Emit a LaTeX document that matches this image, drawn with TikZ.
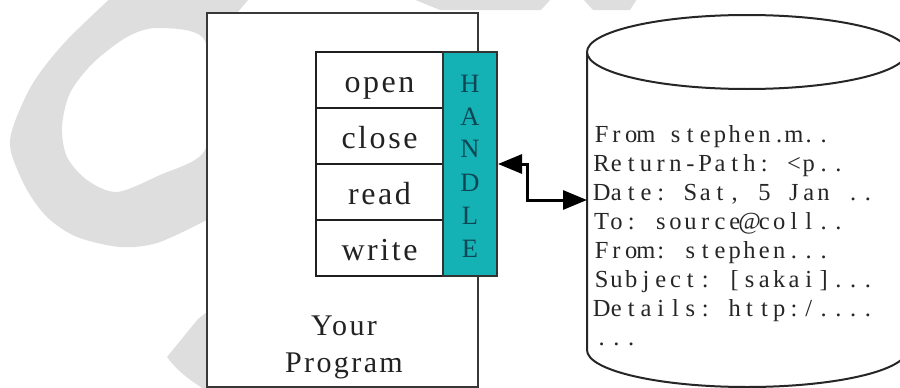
\documentclass[tikz,border=0pt]{standalone}
\usepackage{fontspec}
\setmainfont{Liberation Serif}
\newfontfamily\trackedserif[LetterSpace=8]{Liberation Serif}
\usetikzlibrary{arrows.meta}

\definecolor{handlefill}{RGB}{20,178,180}
\definecolor{handleink}{RGB}{15,70,85}
\definecolor{markgray}{RGB}{222,222,222}
\definecolor{inkgray}{RGB}{34,34,34}

% fixed-pitch setting of serif glyphs, one centred cell per character
\newlength\pitchwidth
\setlength\pitchwidth{14.8pt}
\ExplSyntaxOn
\NewDocumentCommand\pitched{m}{\str_map_inline:nn{#1}{\makebox[\pitchwidth][c]{##1}}}
\ExplSyntaxOff

\tikzset{
  progbox/.style={draw=black!78, line width=2pt, fill=white, inner sep=0pt,
    minimum width=271pt, minimum height=374pt},
  methodbox/.style={draw=black!88, line width=2pt, fill=white, inner sep=0pt,
    minimum width=127pt, minimum height=56pt, text height=28pt, text depth=3pt,
    text=inkgray, font=\trackedserif\fontsize{32}{36}\selectfont},
  handlebox/.style={draw=black!80, line width=2pt, fill=handlefill, inner sep=0pt,
    minimum width=54pt, minimum height=224pt},
  handlelabel/.style={text=handleink, inner sep=0pt,
    font=\fontsize{26.5}{33}\selectfont},
  caption/.style={text=inkgray, inner sep=0pt,
    font=\trackedserif\fontsize{30}{36}\selectfont},
  records/.style={text=black!85, inner sep=0pt,
    font=\fontsize{24.5}{29}\selectfont},
  dbline/.style={draw=black!85, line width=2pt},
  link/.style={line width=3pt, draw=black,
    arrows={Triangle[length=24pt,width=19pt]-Triangle[length=24pt,width=19pt]}},
}

\begin{document}
\begin{tikzpicture}[x=1pt,y=-1pt]
\useasboundingbox (0,0) rectangle (900,388);
\begin{scope}
\clip (0,0) rectangle (900,388);

% faint background mark
\fill[markgray, even odd rule]
  plot[smooth] coordinates {(130,-20) (67,40) (33,83) (13,127) (11,152) (27,190)
    (48,218) (77,237) (120,247) (157,243) (203,222) (220,212)}
  -- (222,13) -- (237,13) -- (265,-20) -- cycle
  plot[smooth cycle] coordinates {(203,38) (157,28) (127,37) (93,63) (70,93)
    (62,127) (67,157) (87,180) (117,192) (160,175) (203,153) (215,100)};
\fill[markgray] (212,308) -- (198,319) -- (167,357)
  .. controls (178,372) and (192,382) .. (212,394) -- cycle;
\fill[markgray] (413,-1) -- (551,-1) -- (541,10) -- (440,10) -- cycle;
\fill[markgray] (583,-1) -- (637,-1) -- (630,10) -- (593,10) -- cycle;

% the program with its file operations
\node[progbox] (prog) at (342.5,200) {};
\node[methodbox] (open)  at (379.5,80)  {open};
\node[methodbox] (close) at (379.5,136) {close};
\node[methodbox] (read)  at (379.5,192) {read};
\node[methodbox] (write) at (379.5,248) {write};
\node[handlebox] (handle) at (470,164) {};
\node[handlelabel, anchor=base] (handletext) at (470,92)
  {\begin{tabular}[t]{@{}c@{}}H\\A\\N\\D\\L\\E\end{tabular}};
\node[caption, anchor=base] (your) at (344,335) {Your};
\node[caption, anchor=base] (program) at (344,372) {Program};

% the file on disk
\fill[white] (587,52) -- (587,350) arc[start angle=180, end angle=0, x radius=160, y radius=37]
  -- (907,52) -- cycle;
\draw[dbline] (587,52) -- (587,350)
  arc[start angle=180, end angle=0, x radius=160, y radius=37] -- (907,52);
\draw[dbline, fill=white] (747,52) ellipse [x radius=160, y radius=37];
\node[records, anchor=base west] (lines) at (594,142)
  {\begin{tabular}[t]{@{}l@{}}
   \pitched{From stephen.m..}\\
   \pitched{Return-Path: <p..}\\
   \pitched{Date: Sat, 5 Jan ..}\\
   \pitched{To: source@coll..}\\
   \pitched{From: stephen...}\\
   \pitched{Subject: [sakai]...}\\
   \pitched{Details: http:/....}\\
   \pitched{...}
   \end{tabular}};
\coordinate (dbleft) at (587,200);
\coordinate (elbow) at (527,200);

% handle connected to the file
\draw[link] (handle.east) -| (elbow) -- (dbleft);
\end{scope}
\end{tikzpicture}
\end{document}
